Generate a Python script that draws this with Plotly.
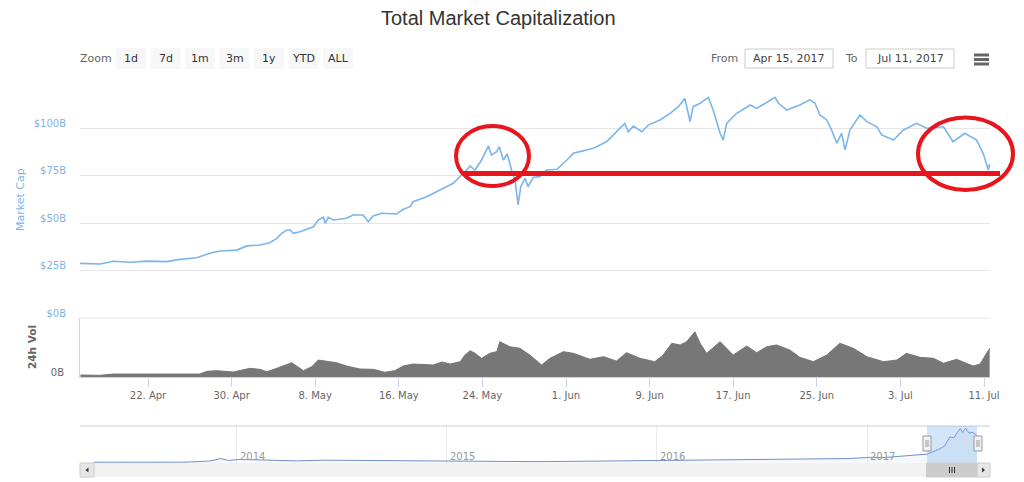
import plotly.graph_objects as go

# ---- data (values in $B) ----
cap_dates = [
    "2017-04-15 12:00", "2017-04-17 10:00", "2017-04-18 16:00", "2017-04-20 07:00",
    "2017-04-21 21:00", "2017-04-23 19:00", "2017-04-25 01:00", "2017-04-26 16:00",
    "2017-04-27 22:00", "2017-04-28 21:00", "2017-04-30 12:00", "2017-05-01 11:00",
    "2017-05-02 17:00", "2017-05-03 16:00", "2017-05-04 08:00", "2017-05-04 19:00",
    "2017-05-05 07:00", "2017-05-05 14:00", "2017-05-05 22:00", "2017-05-06 13:00",
    "2017-05-07 20:00", "2017-05-08 07:00", "2017-05-08 19:00", "2017-05-08 23:00",
    "2017-05-09 06:00", "2017-05-09 18:00", "2017-05-11 00:00", "2017-05-11 15:00",
    "2017-05-12 14:00", "2017-05-13 02:00", "2017-05-13 13:00", "2017-05-14 09:00",
    "2017-05-15 19:00", "2017-05-16 10:00", "2017-05-17 02:00", "2017-05-17 09:00",
    "2017-05-18 16:00", "2017-05-19 23:00", "2017-05-21 05:00", "2017-05-22 12:00",
    "2017-05-22 20:00", "2017-05-23 07:00", "2017-05-23 22:00", "2017-05-24 14:00",
    "2017-05-24 21:00", "2017-05-25 09:00", "2017-05-25 15:00", "2017-05-26 00:00",
    "2017-05-26 09:00", "2017-05-26 19:00", "2017-05-27 03:00", "2017-05-27 10:00",
    "2017-05-27 16:00", "2017-05-28 02:00", "2017-05-28 09:00", "2017-05-28 21:00",
    "2017-05-29 12:00", "2017-05-30 04:00", "2017-05-31 03:00", "2017-06-01 02:00",
    "2017-06-01 17:00", "2017-06-02 08:00", "2017-06-03 15:00", "2017-06-04 21:00",
    "2017-06-06 04:00", "2017-06-06 15:00", "2017-06-06 23:00", "2017-06-07 11:00",
    "2017-06-08 06:00", "2017-06-08 21:00", "2017-06-10 00:00", "2017-06-10 23:00",
    "2017-06-11 18:00", "2017-06-12 09:00", "2017-06-12 21:00", "2017-06-13 04:00",
    "2017-06-13 20:00", "2017-06-14 15:00", "2017-06-15 02:00", "2017-06-15 18:00",
    "2017-06-16 01:00", "2017-06-16 09:00", "2017-06-17 08:00", "2017-06-18 15:00",
    "2017-06-19 06:00", "2017-06-21 00:00", "2017-06-21 08:00", "2017-06-22 03:00",
    "2017-06-23 09:00", "2017-06-24 08:00", "2017-06-24 20:00", "2017-06-25 07:00",
    "2017-06-25 23:00", "2017-06-26 10:00", "2017-06-26 22:00", "2017-06-27 09:00",
    "2017-06-27 17:00", "2017-06-28 04:00", "2017-06-29 03:00", "2017-06-29 19:00",
    "2017-06-30 18:00", "2017-07-01 05:00", "2017-07-02 08:00", "2017-07-03 07:00",
    "2017-07-04 13:00", "2017-07-05 12:00", "2017-07-07 03:00", "2017-07-08 01:00",
    "2017-07-09 04:00", "2017-07-10 07:00", "2017-07-10 22:00", "2017-07-11 10:00",
    "2017-07-11 13:00",
]
cap_values = [
    28.8, 28.5, 29.9, 29.4, 30.0, 29.7, 30.9, 31.8,
    34.1, 35.3, 35.8, 38.0, 38.5, 39.7, 42.0, 44.6,
    46.4, 46.4, 44.6, 45.5, 48.1, 51.7, 53.1, 49.9,
    53.1, 51.7, 52.6, 54.3, 54.3, 50.8, 53.8, 55.2,
    54.8, 57.3, 58.7, 61.3, 63.9, 67.5, 71.0, 78.0,
    80.1, 78.0, 83.3, 90.7, 85.9, 87.7, 90.3, 83.3,
    86.5, 78.0, 72.7, 59.6, 69.2, 73.6, 69.2, 74.2,
    74.5, 78.0, 78.4, 83.3, 86.8, 87.7, 89.5, 92.9,
    100.0, 102.6, 98.2, 101.2, 98.2, 101.7, 104.4, 107.9,
    111.4, 115.8, 103.5, 111.4, 113.2, 116.3, 109.6, 97.4,
    93.8, 102.6, 107.9, 112.3, 110.5, 116.3, 113.2, 109.6,
    112.3, 115.0, 113.2, 107.0, 104.4, 99.1, 92.1, 97.4,
    88.6, 99.1, 107.0, 103.5, 100.8, 96.5, 93.8, 99.1,
    102.6, 100.0, 100.8, 92.9, 97.4, 93.8, 86.8, 78.0,
    81.2,
]

vol_dates = [
    "2017-04-15 13:00", "2017-04-17 10:00", "2017-04-18 16:00", "2017-04-21 06:00",
    "2017-04-23 04:00", "2017-04-25 01:00", "2017-04-26 23:00", "2017-04-27 15:00",
    "2017-04-28 14:00", "2017-04-30 04:00", "2017-05-01 18:00", "2017-05-02 17:00",
    "2017-05-03 09:00", "2017-05-04 08:00", "2017-05-05 18:00", "2017-05-06 21:00",
    "2017-05-07 16:00", "2017-05-08 07:00", "2017-05-09 06:00", "2017-05-10 01:00",
    "2017-05-11 00:00", "2017-05-12 07:00", "2017-05-13 13:00", "2017-05-14 16:00",
    "2017-05-15 15:00", "2017-05-16 10:00", "2017-05-17 09:00", "2017-05-18 08:00",
    "2017-05-19 07:00", "2017-05-20 03:00", "2017-05-20 22:00", "2017-05-21 21:00",
    "2017-05-22 08:00", "2017-05-22 20:00", "2017-05-23 07:00", "2017-05-23 22:00",
    "2017-05-24 17:00", "2017-05-25 09:00", "2017-05-25 16:00", "2017-05-26 15:00",
    "2017-05-27 14:00", "2017-05-28 13:00", "2017-05-29 16:00", "2017-05-30 11:00",
    "2017-05-31 18:00", "2017-06-01 17:00", "2017-06-03 07:00", "2017-06-04 14:00",
    "2017-06-05 20:00", "2017-06-06 19:00", "2017-06-08 02:00", "2017-06-09 12:00",
    "2017-06-10 07:00", "2017-06-11 03:00", "2017-06-11 22:00", "2017-06-12 13:00",
    "2017-06-13 08:00", "2017-06-13 20:00", "2017-06-14 11:00", "2017-06-15 18:00",
    "2017-06-17 00:00", "2017-06-18 07:00", "2017-06-19 06:00", "2017-06-20 05:00",
    "2017-06-21 04:00", "2017-06-22 10:00", "2017-06-23 09:00", "2017-06-24 16:00",
    "2017-06-25 23:00", "2017-06-27 05:00", "2017-06-28 12:00", "2017-06-29 19:00",
    "2017-07-01 09:00", "2017-07-02 16:00", "2017-07-03 14:00", "2017-07-04 21:00",
    "2017-07-06 04:00", "2017-07-07 03:00", "2017-07-08 09:00", "2017-07-09 23:00",
    "2017-07-10 15:00", "2017-07-11 13:00",
]
vol_values = [
    0.27, 0.23, 0.40, 0.40, 0.40, 0.40, 0.40, 0.77,
    0.86, 0.68, 1.18, 1.04, 0.72, 1.18, 1.94, 0.86,
    1.40, 2.30, 2.13, 1.94, 1.49, 1.08, 1.04, 0.64,
    0.86, 1.49, 1.76, 1.67, 1.63, 2.03, 1.76, 2.08,
    2.98, 3.57, 3.21, 2.53, 3.21, 3.44, 4.79, 4.10,
    3.89, 2.98, 1.63, 2.53, 3.43, 3.21, 2.40, 2.76,
    2.17, 3.30, 2.53, 2.08, 2.98, 4.57, 4.34, 4.79,
    6.14, 4.57, 3.21, 4.79, 2.98, 4.20, 3.30, 4.11,
    4.34, 3.66, 2.67, 2.08, 2.98, 4.57, 3.89, 2.76,
    2.08, 2.30, 3.21, 2.67, 2.53, 1.86, 2.40, 1.49,
    1.76, 3.89,
]

# navigator: whole history
nav_dates = [
    "2013-04-28", "2013-06-01", "2013-08-01", "2013-10-01", "2013-11-15", "2013-12-04",
    "2013-12-18", "2014-01-05", "2014-02-01", "2014-03-01", "2014-04-15", "2014-06-01",
    "2014-08-01", "2014-10-01", "2014-12-01", "2015-01-15", "2015-03-01", "2015-06-01",
    "2015-08-01", "2015-11-05", "2016-01-01", "2016-03-01", "2016-06-18", "2016-08-01",
    "2016-10-01", "2016-12-01", "2017-01-05", "2017-02-01", "2017-03-01", "2017-04-15",
    "2017-05-05", "2017-05-15", "2017-05-25", "2017-06-01", "2017-06-06", "2017-06-12",
    "2017-06-16", "2017-06-21", "2017-06-27", "2017-07-04", "2017-07-10", "2017-07-11",
]
nav_values = [
    1.6, 1.4, 1.3, 1.7, 5.5, 14.0,
    7.5, 11.0, 10.0, 7.5, 6.0, 8.5,
    7.5, 5.5, 5.2, 3.5, 4.0, 3.6,
    4.4, 6.5, 7.0, 8.5, 12.5, 11.0,
    12.5, 14.0, 18.0, 17.5, 22.0, 28.8,
    45.0, 55.0, 87.0, 84.0, 100.0, 115.0,
    102.0, 116.0, 100.0, 102.0, 93.0, 85.0,
]
nav_years = ["2014-01-01", "2015-01-01", "2016-01-01", "2017-01-01"]
nav_year_labels = ["2014", "2015", "2016", "2017"]

tick_dates = ["2017-04-22", "2017-04-30", "2017-05-08", "2017-05-16", "2017-05-24",
              "2017-06-01", "2017-06-09", "2017-06-17", "2017-06-25", "2017-07-03", "2017-07-11"]
tick_labels = ["22. Apr", "30. Apr", "8. May", "16. May", "24. May",
               "1. Jun", "9. Jun", "17. Jun", "25. Jun", "3. Jul", "11. Jul"]
cap_ticks = [0, 25, 50, 75, 100]
cap_ticklabels = ["$0B", "$25B", "$50B", "$75B", "$100B"]
zoom_buttons = ["1d", "7d", "1m", "3m", "1y", "YTD", "ALL"]

W, H = 1024, 482
FONT = "DejaVu Sans"


def px(x):
    return x / W


def py(y):
    return 1 - y / H


def text(x, y, s, size=11, color="#666666", family=FONT, **kw):
    # paper-positioned text label, centred on pixel (x, y)
    return dict(x=px(x), y=py(y), xref="paper", yref="paper", text=s, showarrow=False,
                xanchor="center", yanchor="middle",
                font=dict(family=family, size=size, color=color), **kw)


fig = go.Figure()

fig.add_trace(go.Scatter(
    x=cap_dates, y=cap_values, mode="lines", xaxis="x", yaxis="y",
    line=dict(color="#7cb5ec", width=1.6), name="Market Cap"))

fig.add_trace(go.Scatter(
    x=vol_dates, y=vol_values, mode="lines", xaxis="x", yaxis="y2",
    fill="tozeroy", fillcolor="#777777",
    line=dict(color="#777777", width=1), name="24h Vol"))

fig.add_trace(go.Scatter(
    x=nav_dates, y=nav_values, mode="lines", xaxis="x3", yaxis="y3",
    fill="tozeroy", fillcolor="rgba(51,92,173,0.05)",
    line=dict(color="#6f8fcc", width=1), name="navigator"))

shapes = []
annotations = []

# === zoom buttons ===
annotations.append(text(96, 58.5, "Zoom"))
bx = 116
for lab in zoom_buttons:
    shapes.append(dict(type="rect", xref="paper", yref="paper",
                       x0=px(bx), x1=px(bx + 30), y0=py(69), y1=py(48),
                       fillcolor="#f7f7f7", line=dict(width=0)))
    annotations.append(text(bx + 15, 58.5, lab, color="#333333"))
    bx += 34.5

# === From / To inputs ===
annotations.append(text(724, 58.5, "From"))
annotations.append(text(851, 58.5, "To"))
for x0, x1, txt in [(745, 833, "Apr 15, 2017"), (866, 954, "Jul 11, 2017")]:
    shapes.append(dict(type="rect", xref="paper", yref="paper",
                       x0=px(x0), x1=px(x1), y0=py(68), y1=py(49),
                       fillcolor="white", line=dict(color="#cccccc", width=1)))
    annotations.append(text((x0 + x1) / 2, 58.5, txt, color="#444444"))

# hamburger menu
for yy in [55, 59.5, 64]:
    shapes.append(dict(type="line", xref="paper", yref="paper",
                       x0=px(974), x1=px(989), y0=py(yy), y1=py(yy),
                       line=dict(color="#666666", width=3)))

# title
annotations.append(text(498, 18.5, "Total Market Capitalization", size=20,
                        color="#333333", family="Liberation Sans"))

# axis titles
annotations.append(text(20, 200, "Market Cap", color="#7cb5ec", textangle=-90))
annotations.append(text(32, 347, "<b>24h Vol</b>", size=10.5, textangle=-90))

# $0B gridline / panel separator
shapes.append(dict(type="line", xref="paper", yref="paper",
                   x0=px(80), x1=px(990), y0=py(318), y1=py(318),
                   line=dict(color="#e6e6e6", width=1), layer="below"))

# === navigator ===
shapes.append(dict(type="line", xref="paper", yref="paper",
                   x0=px(80), x1=px(990), y0=py(426), y1=py(426),
                   line=dict(color="#cccccc", width=1)))
for yr, lab in zip(nav_years, nav_year_labels):
    annotations.append(dict(x=yr, xref="x3", y=py(456), yref="paper", text=lab,
                            xanchor="left", yanchor="middle", xshift=1, showarrow=False,
                            font=dict(family=FONT, size=10, color="#999999")))

# selected range mask
shapes.append(dict(type="rect", xref="x3", yref="paper",
                   x0=cap_dates[0][:10], x1=cap_dates[-1][:10], y0=py(463), y1=py(426),
                   fillcolor="rgba(130,180,235,0.35)", line=dict(width=0)))

# scrollbar
shapes.append(dict(type="rect", xref="paper", yref="paper",
                   x0=px(80), x1=px(990), y0=py(477), y1=py(463),
                   fillcolor="#f2f2f2", line=dict(width=0)))
for x0, x1 in [(80, 94), (977, 990)]:
    shapes.append(dict(type="rect", xref="paper", yref="paper",
                       x0=px(x0), x1=px(x1), y0=py(477), y1=py(463),
                       fillcolor="#e6e6e6", line=dict(color="#cccccc", width=1)))
shapes.append(dict(type="path", xref="paper", yref="paper",
                   path=f"M {px(85.5)} {py(470)} L {px(88.5)} {py(467.5)} L {px(88.5)} {py(472.5)} Z",
                   fillcolor="#333333", line=dict(width=0)))
shapes.append(dict(type="path", xref="paper", yref="paper",
                   path=f"M {px(985)} {py(470)} L {px(982)} {py(467.5)} L {px(982)} {py(472.5)} Z",
                   fillcolor="#333333", line=dict(width=0)))
shapes.append(dict(type="rect", xref="paper", yref="paper",
                   x0=px(926.5), x1=px(977), y0=py(477), y1=py(463),
                   fillcolor="#cccccc", line=dict(color="#cccccc", width=1)))
for gx in [949.5, 952, 954.5]:
    shapes.append(dict(type="line", xref="paper", yref="paper",
                       x0=px(gx), x1=px(gx), y0=py(467), y1=py(473),
                       line=dict(color="#333333", width=1)))

# handles
for hx in [927, 978]:
    shapes.append(dict(type="rect", xref="paper", yref="paper",
                       x0=px(hx - 4), x1=px(hx + 4), y0=py(451), y1=py(436),
                       fillcolor="#f2f2f2", line=dict(color="#999999", width=1)))
    for dx in [-1, 1]:
        shapes.append(dict(type="line", xref="paper", yref="paper",
                           x0=px(hx + dx), x1=px(hx + dx), y0=py(440), y1=py(447),
                           line=dict(color="#999999", width=1)))

# === red hand-drawn highlights ===
RED = "#e8151d"
shapes.append(dict(type="circle", xref="paper", yref="paper",
                   x0=px(456), x1=px(529), y0=py(186), y1=py(126),
                   line=dict(color=RED, width=4)))
shapes.append(dict(type="circle", xref="paper", yref="paper",
                   x0=px(918), x1=px(1013), y0=py(190), y1=py(117.5),
                   line=dict(color=RED, width=4)))
shapes.append(dict(type="line", xref="paper", yref="paper",
                   x0=px(463), x1=px(1000), y0=py(173.5), y1=py(173.5),
                   line=dict(color=RED, width=5)))

fig.update_layout(
    template="none",
    width=W, height=H,
    margin=dict(l=0, r=0, t=0, b=0),
    paper_bgcolor="white",
    plot_bgcolor="white",
    showlegend=False,
    font=dict(family=FONT, color="#666666"),
    xaxis=dict(
        domain=[px(80), px(990)],
        range=["2017-04-15 11:50", "2017-07-11 13:47"],
        anchor="y2", automargin=False,
        showgrid=False, zeroline=False,
        showline=True, linecolor="#ccd6eb", linewidth=1,
        ticks="outside", ticklen=9, tickcolor="#ccd6eb",
        tickvals=tick_dates, ticktext=tick_labels,
        tickfont=dict(family=FONT, size=10, color="#666666"),
    ),
    yaxis=dict(
        domain=[py(318), py(90)],
        range=[0, 120.19],
        anchor="x", automargin=False,
        tickvals=cap_ticks, ticktext=cap_ticklabels,
        showgrid=True, gridcolor="#e6e6e6", gridwidth=1,
        zeroline=False, showline=False, ticks="",
        ticklabelshift=-5, ticklabelstandoff=13,
        tickfont=dict(family=FONT, size=10, color="#7cb5ec"),
    ),
    yaxis2=dict(
        domain=[py(377), py(318)],
        range=[0, 8],
        anchor="x", automargin=False,
        tickvals=[0], ticktext=["0B"],
        showgrid=False, zeroline=False,
        showline=True, linecolor="#ccd6eb", linewidth=1, ticks="",
        ticklabelshift=-5, ticklabelstandoff=13,
        tickfont=dict(family=FONT, size=10, color="#666666"),
    ),
    xaxis3=dict(
        domain=[px(94), px(977)],
        range=["2013-04-28", "2017-07-11"],
        anchor="y3", automargin=False,
        tickvals=nav_years, showticklabels=False,
        showgrid=True, gridcolor="#ececec", zeroline=False, showline=False, ticks="",
    ),
    yaxis3=dict(
        domain=[py(463), py(426)],
        range=[-1, 123.7],
        anchor="x3", automargin=False, visible=False,
    ),
    shapes=shapes,
    annotations=annotations,
)

# page body has a default 8px margin; remove it so the figure sits at the window origin
fig.write_html("out.html", config={"displayModeBar": False},
               post_script="document.body.style.margin='0';")
